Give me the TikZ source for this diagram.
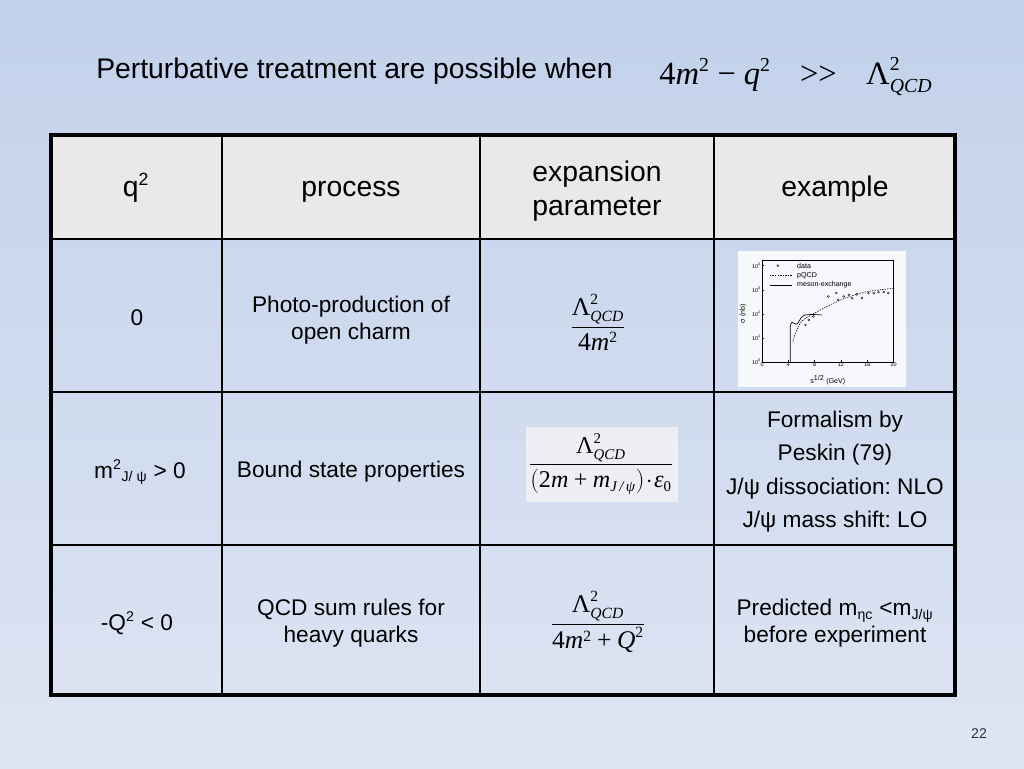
\documentclass[tikz,border=0pt]{standalone}
\usepackage{amsmath}
\usepackage{fontspec}
\setmainfont{Liberation Sans}
\newfontfamily\tnr{Liberation Serif}
\usepackage{tikz}
\DeclareMathSizes{23}{23}{14}{10}
\DeclareMathSizes{20}{20}{12.5}{10}
\DeclareMathSizes{18}{18}{11}{8}
\DeclareMathSizes{17}{17}{10.5}{8}
\DeclareMathSizes{16}{16}{10}{8}
\definecolor{bgtop}{RGB}{194,209,235}
\definecolor{bgbot}{RGB}{222,229,243}
\definecolor{headgray}{RGB}{233,233,236}
\definecolor{imgwhite}{RGB}{246,248,251}
\definecolor{eqbox}{RGB}{237,239,243}
\newcommand\vi[1]{\text{\tnr\itshape #1}}
\newcommand\vr[1]{\text{\tnr #1}}
\newcommand\lqcd{\vr{Λ}^{\vr{2}}_{\vi{QCD}}}

\begin{document}
\begin{tikzpicture}[x=0.02480469cm, y=-0.02480469cm,
  headtext/.style={font=\fontsize{20}{24}\selectfont, align=center, inner sep=0pt},
  celltext/.style={font=\fontsize{16}{19}\selectfont\frenchspacing, align=center, inner sep=0pt},
  fracnode/.style={font=\fontsize{18}{21}\selectfont, inner sep=0pt},
  plottick/.style={font=\fontsize{3.8}{4}\selectfont, inner sep=0.6pt},
  plottext/.style={font=\fontsize{5}{6}\selectfont, inner sep=0.5pt}]
\useasboundingbox (0,0) rectangle (1024,768);
% Draw slide background
\shade [top color=bgtop, bottom color=bgbot] (0,0) rectangle (1024,768);

% Draw title line
\node [anchor=base west, inner sep=0pt, font=\fontsize{20}{24}\selectfont] (title) at (96,78) {Perturbative treatment are possible when};
\node [anchor=base west, inner sep=0pt, font=\fontsize{23}{27}\selectfont] (cond) at (659,84)
  {$\vr{4}\vi{m}^{\vr{2}}\mathbin{\vr{−}}\vi{q}^{\vr{2}}\;\;\mathrel{\vr{>>}}\;\;\lqcd$};

% Draw header fill and table lines
\fill [headgray] (51,135) rectangle (955,239);
\draw [line width=1pt] (222,135) -- (222,695);
\draw [line width=1pt] (480,135) -- (480,695);
\draw [line width=1pt] (714,135) -- (714,695);
\draw [line width=1pt] (51,392) -- (955,392);
\draw [line width=1pt] (51,545) -- (955,545);
\draw [line width=2pt] (51,239) -- (955,239);
\draw [line width=2.2pt] (51,135) rectangle (955,695);

% Header row
\node [headtext, anchor=base] (hq) at (136,196) {q\textsuperscript{2}};
\node [headtext, anchor=base] (hproc) at (351,196) {process};
\node [headtext] (hexp) at (597,191) {expansion\\parameter};
\node [headtext, anchor=base] (hex) at (835,196) {example};

% Row: q^2 = 0
\node [celltext] (qa) at (137,318) {0};
\node [celltext] (pa) at (351,320) {Photo-production of\\open charm};
\node [fracnode] (fa) at (598,322) {$\dfrac{\lqcd}{\vr{4}\vi{m}^{\vr{2}}}$};
\fill [imgwhite] (738,251) rectangle (906,387);
\begin{scope}[shift={(762,362)}, x=0.1632cm, y=0.5978cm]
  \draw [line width=0.35pt] (0,0) rectangle (20,4.23);
  \foreach \t in {0,4,...,20} {
    \draw [line width=0.3pt] (\t,0) -- (\t,0.1);
    \node [plottick, below] (xt\t) at (\t,0) {\t};
  }
  \foreach \d in {0,...,4} {
    \draw [line width=0.3pt] (0,\d) -- (0.35,\d);
    \node [plottick, left] (yt\d) at (0,\d) {10\textsuperscript{\d}};
  }
  \node [plottext, rotate=90] (ylab) at (-2.9,2) {σ (nb)};
  \node [plottext] (xlab) at (10,-0.75) {s\textsuperscript{1/2} (GeV)};
  % pQCD and meson-exchange curves
  \draw [line width=0.4pt, dash pattern=on 1pt off 0.8pt] plot [smooth] coordinates {(4.7,0.85) (5,1.13) (5.5,1.45) (6,1.68) (7,1.88) (8,2.03) (10,2.32) (12,2.58) (14,2.78) (16,2.92) (18,3.0) (20,3.06)};
  \draw [line width=0.45pt] (4.3,0) -- (4.3,1.5) plot [smooth] coordinates {(4.3,1.5) (4.55,1.65) (5.3,1.57) (6.1,1.89) (6.8,1.96) (8,1.97) (9.1,1.95)};
  % data points
  \foreach \p in {(6.6,1.54),(7.1,1.75),(7.8,1.89),(10.1,2.72),(11.3,2.86),(11.6,2.58),(12.4,2.72),(13.2,2.79),(13.7,2.65),(14.4,2.81),(15.2,2.65),(16.2,2.86),(17,2.86),(17.7,2.9),(18.5,2.9),(19.2,2.86)}
    \draw [line width=0.25pt] \p circle (0.7pt);
  % legend
  \draw [line width=0.25pt] (2.4,4.0) circle (0.7pt);
  \node [plottext, anchor=west] (lgdata) at (5.2,4.0) {data};
  \draw [line width=0.4pt, dash pattern=on 1pt off 0.8pt] (1.2,3.6) -- (4.6,3.6);
  \node [plottext, anchor=west] (lgpqcd) at (5.2,3.6) {pQCD};
  \draw [line width=0.45pt] (1.2,3.2) -- (4.6,3.2);
  \node [plottext, anchor=west] (lgmes) at (5.2,3.2) {meson-exchange};
\end{scope}

% Row: m^2_{J/psi} > 0
\node [celltext] (qb) at (140,472) {m\textsuperscript{2}\textsubscript{J/ ψ} > 0};
\node [celltext] (pb) at (351,472) {Bound state properties};
\fill [eqbox] (526,427) rectangle (678,502);
\node [fracnode, font=\fontsize{17}{20}\selectfont] (fb) at (601,464) {$\dfrac{\lqcd}{\left(\vr{2}\vi{m}\mathbin{\vr{+}}\vi{m}_{\vi{J\,/\,ψ}}\right)\!\cdot\!\vi{ε}_{\vr{0}}}$};
\node [celltext, font=\fontsize{16}{23.6}\selectfont\frenchspacing] (eb) at (835,471.5) {Formalism by\\Peskin (79)\\J/ψ dissociation: NLO\\J/ψ mass shift: LO};

% Row: -Q^2 < 0
\node [celltext] (qc) at (137,623) {-Q\textsuperscript{2} < 0};
\node [celltext] (pc) at (351,623.5) {QCD sum rules for\\heavy quarks};
\node [fracnode] (fc) at (598,622) {$\dfrac{\lqcd}{\vr{4}\vi{m}^{\vr{2}}\mathbin{\vr{+}}\vi{Q}^{\vr{2}}}$};
\node [celltext] (ec) at (835,623.5) {Predicted m\textsubscript{ηc} <m\textsubscript{J/ψ}\\before experiment};

% Page number
\node [inner sep=0pt, font=\fontsize{10}{12}\selectfont, text=black!80] (page) at (979,734) {22};
\end{tikzpicture}
\end{document}
